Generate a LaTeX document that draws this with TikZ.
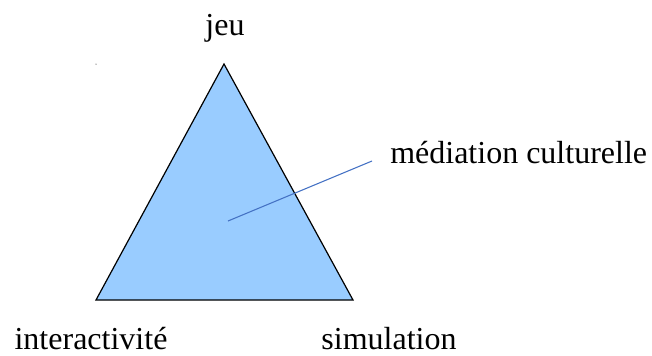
\documentclass[tikz,border=0pt]{standalone}
\usepackage{fontspec}
\setmainfont{Liberation Serif}

\definecolor{trifill}{RGB}{153,204,255}
\definecolor{pointer}{RGB}{69,114,196}

\begin{document}
\begin{tikzpicture}[x=0.75pt, y=-0.75pt,
  label/.style={font=\fontsize{24}{28}\selectfont, inner sep=0pt}]
  \useasboundingbox (0,0) rectangle (652,355);

  % Triangle
  \coordinate (top) at (224,64);
  \coordinate (left) at (96,300);
  \coordinate (right) at (353,300);
  \filldraw[fill=trifill, draw=black, line width=0.9pt, line join=miter]
    (top) -- (left) -- (right) -- cycle;

  % Corner labels
  \node[label, anchor=base] (jeu) at (225,35) {jeu};
  \node[label, anchor=base] (inter) at (91,349) {interactivité};
  \node[label, anchor=base] (simu) at (389,349) {simulation};

  % Pointer to the centre
  \node[label, anchor=base west] (medi) at (390,163) {médiation culturelle};
  \coordinate (inside) at (228,221);
  \coordinate (tip) at (372,161);
  \draw[pointer, line width=0.8pt] (inside) -- (tip);

  % Stray dot
  \fill[black] (96,64) circle (0.5);
\end{tikzpicture}
\end{document}
